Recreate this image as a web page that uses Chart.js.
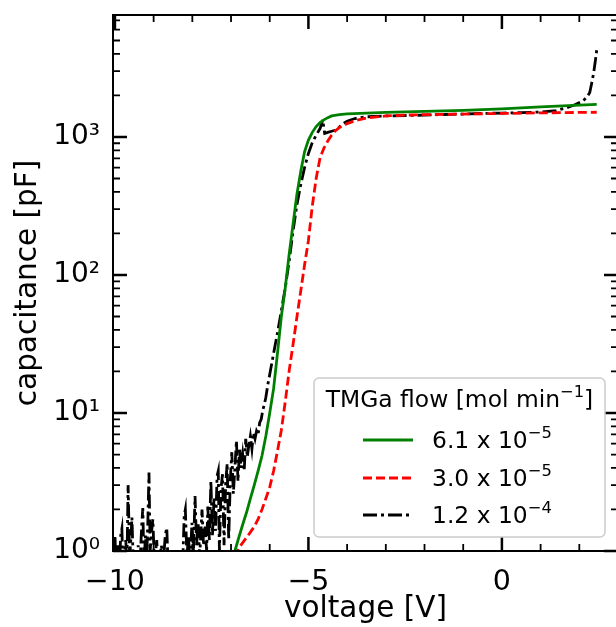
<!DOCTYPE html>
<html lang="en">
<head>
<meta charset="UTF-8">
<title>Capacitance vs voltage</title>
<script src="https://cdn.jsdelivr.net/npm/chart.js"></script>
<style>
    html, body {
        margin: 0;
        padding: 0;
        background: #ffffff;
        overflow: hidden;
    }
    .wrap {
        position: relative;
        width: 620px;
        height: 627px;
    }
</style>
</head>
<body>
<div class="wrap">
    <canvas id="cv-chart" width="620" height="627"></canvas>
</div>

<script>
    // TMGa flow 6.1e-5 (green, solid)
    const greenV = [-6.95, -6.9, -6.8, -6.7, -6.6, -6.5, -6.4, -6.3, -6.2, -6.1, -6.0, -5.9, -5.8, -5.7, -5.6,
        -5.5, -5.4, -5.3, -5.2, -5.1, -5.0, -4.9, -4.8, -4.7, -4.6, -4.5, -4.4, -4.2, -4.0, -3.5, -3.0,
        -2.0, -1.0, 0.0, 1.0, 2.0, 2.45];
    const greenC = [0.9, 1.0, 1.25, 1.55, 1.9, 2.4, 3.0, 3.8, 4.9, 6.8, 10, 15, 27, 50, 80,
        140, 230, 380, 560, 780, 950, 1080, 1190, 1270, 1330, 1380, 1420, 1450, 1470, 1490, 1505,
        1530, 1560, 1600, 1650, 1700, 1720];

    // TMGa flow 3.0e-5 (red, dashed)
    const redV = [-6.9, -6.8, -6.6, -6.4, -6.3, -6.2, -6.1, -6.0, -5.9, -5.8, -5.7, -5.6, -5.5, -5.4,
        -5.3, -5.2, -5.1, -5.0, -4.9, -4.8, -4.7, -4.6, -4.5, -4.4, -4.3, -4.2, -4.0, -3.8, -3.5,
        -3.0, -2.5, -2.0, -1.0, 0.0, 1.0, 2.0, 2.45];
    const redC = [0.9, 1.05, 1.25, 1.5, 1.7, 2.0, 2.4, 2.9, 3.8, 5.3, 7.5, 12, 20, 31,
        49, 76, 118, 178, 316, 500, 705, 830, 935, 1030, 1110, 1170, 1250, 1310, 1370,
        1420, 1440, 1450, 1465, 1480, 1495, 1505, 1510];

    // TMGa flow 1.2e-4 (black, dash-dot, noisy at low bias)
    const blackV = [-10.0, -9.97, -9.93, -9.9, -9.85, -9.82, -9.79, -9.72, -9.69, -9.66, -9.62, -9.59,
        -9.56, -9.52, -9.45, -9.4, -9.36, -9.31, -9.28, -9.25, -9.21, -9.18, -9.15, -9.12, -9.09,
        -9.05, -9.02, -8.98, -8.92, -8.88, -8.8, -8.75, -8.7, -8.66, -8.62, -8.5, -8.35, -8.25,
        -8.21, -8.18, -8.14, -8.1, -8.06, -8.01, -7.97, -7.93, -7.89, -7.85, -7.81, -7.75, -7.71,
        -7.67, -7.63, -7.6, -7.56, -7.52, -7.48, -7.44, -7.4, -7.36, -7.33, -7.3, -7.26, -7.22,
        -7.18, -7.14, -7.1, -7.06, -7.02, -6.98, -6.94, -6.9, -6.86, -6.82, -6.78, -6.74, -6.7,
        -6.66, -6.62, -6.58, -6.54, -6.5, -6.46, -6.42, -6.38, -6.34, -6.3, -6.26, -6.22, -6.18,
        -6.14, -6.1, -6.05, -6.0, -5.9, -5.8, -5.7, -5.6, -5.5, -5.4, -5.3, -5.2, -5.1, -5.0,
        -4.9, -4.8, -4.7, -4.63, -4.58, -4.5, -4.4, -4.3, -4.2, -4.1, -4.0, -3.8, -3.5, -3.0,
        -2.5, -2.0, -1.5, -1.0, -0.5, 0.0, 0.5, 1.0, 1.4, 1.7, 1.9, 2.1, 2.2, 2.27, 2.32, 2.37,
        2.42, 2.46];
    const blackC = [1.25, 0.7, 1.1, 0.6, 1.3, 1.45, 0.7, 1.2, 0.8, 3.0, 0.9, 1.2,
        1.75, 0.7, 0.6, 1.1, 0.7, 1.5, 2.05, 0.8, 1.3, 0.9, 1.6, 3.7, 1.0,
        1.4, 1.7, 0.8, 1.2, 0.7, 1.1, 0.8, 1.3, 1.47, 0.7, 0.5, 0.5, 0.8,
        1.8, 2.0, 0.9, 1.3, 0.8, 1.6, 1.0, 2.5, 1.1, 1.6, 0.9, 2.0, 1.1,
        1.5, 1.0, 2.1, 1.2, 3.2, 1.3, 2.4, 1.4, 3.5, 3.8, 1.0, 2.8, 3.6,
        1.1, 3.0, 4.3, 1.2, 3.2, 5.2, 2.6, 4.0, 6.3, 3.2, 5.6, 4.0, 5.0,
        3.8, 6.5, 4.8, 5.8, 6.8, 5.5, 7.2, 6.5, 7.4, 7.0, 8.5, 9.0, 10.5,
        11.5, 13, 16, 19, 27, 38, 55, 80, 125, 205, 320, 450, 600, 760,
        910, 1030, 1150, 1330, 1060, 1080, 1100, 1120, 1180, 1250, 1300, 1360, 1400, 1420,
        1430, 1440, 1455, 1465, 1480, 1490, 1500, 1515, 1550, 1640, 1720, 1830, 1950, 2100, 2450, 2900,
        3650, 4500];

    const xTicks = [-10, -5, 0];
    const yTicks = [1, 10, 100, 1000];
    const legendTitle = ['TMGa flow [mol min', '\u22121', ']'];
    const legendLabels = [['6.1 x 10', '\u22125'], ['3.0 x 10', '\u22125'], ['1.2 x 10', '\u22124']];

    const FONT = '"DejaVu Sans", "Noto Sans", sans-serif';
    const supDigits = ['\u2070', '\u00B9', '\u00B2', '\u00B3', '\u2074'];

    const toPoints = (xs, ys) => xs.map((v, i) => ({x: v, y: ys[i]}));

    // draw "base^sup tail" with a raised smaller exponent
    function drawSup(ctx, base, sup, tail, x, y, size, align) {
        const f = s => s + 'px ' + FONT;
        ctx.font = f(size);
        const wb = ctx.measureText(base).width;
        const wt = tail ? ctx.measureText(tail).width : 0;
        ctx.font = f(size * 0.7);
        const ws = ctx.measureText(sup).width;
        const x0 = align === 'center' ? x - (wb + ws + wt) / 2 : x;
        ctx.textAlign = 'left';
        ctx.textBaseline = 'alphabetic';
        ctx.font = f(size);
        ctx.fillText(base, x0, y);
        ctx.font = f(size * 0.7);
        ctx.fillText(sup, x0 + wb, y - size * 0.41);
        if (tail) {
            ctx.font = f(size);
            ctx.fillText(tail, x0 + wb + ws, y);
        }
    }

    // inward ticks on all four sides + frame
    const frameTicks = {
        id: 'frameTicks',
        afterDatasetsDraw(chart) {
            const {ctx, chartArea: a, scales: {x, y}} = chart;
            ctx.save();
            ctx.strokeStyle = '#000';
            for (let v = Math.ceil(x.min); v <= x.max; v++) {
                const px = x.getPixelForValue(v);
                const major = v % 5 === 0;
                const len = major ? 14 : 7;
                ctx.lineWidth = major ? 2.5 : 1.8;
                ctx.beginPath();
                ctx.moveTo(px, a.bottom);
                ctx.lineTo(px, a.bottom - len);
                ctx.moveTo(px, a.top);
                ctx.lineTo(px, a.top + len);
                ctx.stroke();
            }
            for (let d = 1; d <= y.max; d *= 10) {
                for (let m = 1; m <= 9; m++) {
                    const v = d * m;
                    if (v > y.max) break;
                    const py = y.getPixelForValue(v);
                    const major = m === 1;
                    const len = major ? 14 : 7;
                    ctx.lineWidth = major ? 2.5 : 1.8;
                    ctx.beginPath();
                    ctx.moveTo(a.left, py);
                    ctx.lineTo(a.left + len, py);
                    ctx.moveTo(a.right, py);
                    ctx.lineTo(a.right - len, py);
                    ctx.stroke();
                }
            }
            ctx.lineWidth = 2;
            ctx.strokeRect(a.left, a.top, a.right - a.left, a.bottom - a.top);
            ctx.restore();
        }
    };

    // legend box in the lower right of the axes
    const boxLegend = {
        id: 'boxLegend',
        afterDraw(chart) {
            const {ctx} = chart;
            const bx = 314, by = 378, bw = 291, bh = 159;
            ctx.save();
            ctx.fillStyle = 'rgba(255,255,255,0.8)';
            ctx.strokeStyle = '#cccccc';
            ctx.lineWidth = 1.5;
            ctx.beginPath();
            ctx.roundRect(bx, by, bw, bh, 5);
            ctx.fill();
            ctx.stroke();

            ctx.fillStyle = '#000';
            drawSup(ctx, legendTitle[0], legendTitle[1], legendTitle[2], bx + bw / 2, 407, 23.4, 'center');

            const rows = [440, 478, 515];
            chart.data.datasets.forEach((ds, i) => {
                ctx.strokeStyle = ds.borderColor;
                ctx.lineWidth = ds.borderWidth;
                ctx.setLineDash(ds.borderDash || []);
                ctx.beginPath();
                ctx.moveTo(363, rows[i]);
                ctx.lineTo(413, rows[i]);
                ctx.stroke();
                ctx.setLineDash([]);
                ctx.fillStyle = '#000';
                drawSup(ctx, legendLabels[i][0], legendLabels[i][1], '', 432, rows[i] + 8, 23.4, 'left');
            });
            ctx.restore();
        }
    };

    const ctx = document.getElementById('cv-chart').getContext('2d');
    new Chart(ctx, {
        type: 'line',
        data: {
            datasets: [
                {data: toPoints(greenV, greenC), borderColor: '#008000', borderWidth: 2.8},
                {data: toPoints(redV, redC), borderColor: '#ff0000', borderWidth: 2.8, borderDash: [9, 4]},
                {data: toPoints(blackV, blackC), borderColor: '#000000', borderWidth: 2.8, borderDash: [14, 4, 3, 4]}
            ]
        },
        options: {
            responsive: false,
            animation: false,
            devicePixelRatio: 1,
            layout: {padding: {top: 15, right: 2, bottom: 0, left: 0}},
            elements: {
                point: {radius: 0},
                line: {tension: 0, fill: false}
            },
            plugins: {
                legend: {display: false},
                tooltip: {enabled: false}
            },
            scales: {
                x: {
                    type: 'linear',
                    min: -10.05,
                    max: 3.0,
                    afterBuildTicks: s => { s.ticks = xTicks.map(v => ({value: v})); },
                    afterFit: s => {
                        s.height = 76;
                        s.paddingLeft = 0;
                        s.paddingRight = 0;
                    },
                    grid: {display: false, drawTicks: false},
                    border: {display: false},
                    ticks: {
                        color: '#000',
                        padding: 14,
                        maxRotation: 0,
                        autoSkip: false,
                        font: {family: FONT, size: 28.5},
                        callback: v => String(v).replace('-', '\u2212')
                    },
                    title: {
                        display: true,
                        text: 'voltage [V]',
                        color: '#000',
                        padding: {top: 0, bottom: 0},
                        font: {family: FONT, size: 29.5}
                    }
                },
                y: {
                    type: 'logarithmic',
                    min: 1,
                    max: 7650,
                    afterBuildTicks: s => { s.ticks = yTicks.map(v => ({value: v})); },
                    afterFit: s => {
                        s.width = 113;
                        s.paddingTop = 0;
                        s.paddingBottom = 0;
                    },
                    grid: {display: false, drawTicks: false},
                    border: {display: false},
                    ticks: {
                        color: '#000',
                        padding: 13,
                        autoSkip: false,
                        font: {family: FONT, size: 28},
                        callback: v => '10' + supDigits[Math.round(Math.log10(v))]
                    },
                    title: {
                        display: true,
                        text: 'capacitance [pF]',
                        color: '#000',
                        padding: {top: 11, bottom: 0},
                        font: {family: FONT, size: 29.5}
                    }
                }
            }
        },
        plugins: [frameTicks, boxLegend]
    });
</script>
</body>
</html>
